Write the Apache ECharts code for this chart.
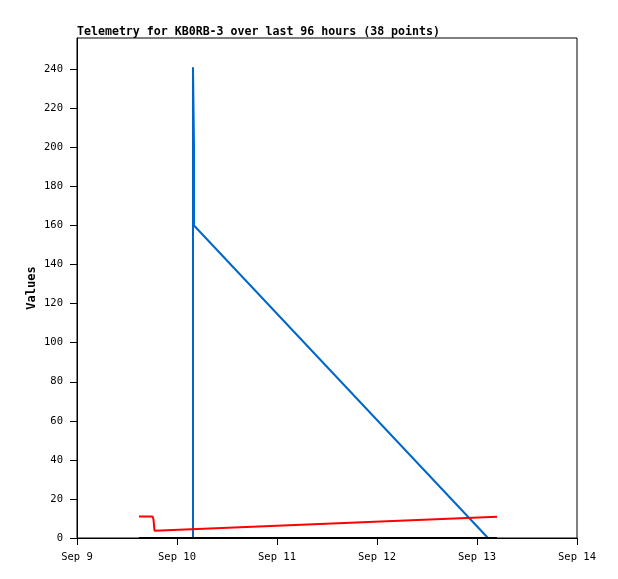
<!DOCTYPE html>
<html><head><meta charset="utf-8">
<script src="https://cdn.jsdelivr.net/npm/echarts@6/dist/echarts.min.js"></script>
<style>html,body{margin:0;padding:0;background:#fff}#c{width:618px;height:579px}</style>
</head><body><div id="c"></div>
<script>
// Hours since Sep 9 00:00
const xTickHours = [0, 24, 48, 72, 96, 120];
const xTickLabels = ['Sep 9', 'Sep 10', 'Sep 11', 'Sep 12', 'Sep 13', 'Sep 14'];
const yTicks = [0, 20, 40, 60, 80, 100, 120, 140, 160, 180, 200, 220, 240];

const blueHours = [27.84, 27.84, 28.08, 28.08, 98.64];
const blueValues = [0, 241, 200, 160, 0];
const redHours = [14.88, 18.12, 18.36, 18.6, 100.8];
const redValues = [11, 11, 9.5, 3.7, 10.9];
const blackHours = [14.88, 100.8];
const blackValues = [0, 0];

const zip = (a, b) => a.map((v, i) => [v, b[i]]);
const mono = 'DejaVu Sans Mono';

const chart = echarts.init(document.getElementById('c'), null, {renderer: 'canvas'});
chart.setOption({
  animation: false,
  backgroundColor: '#fff',
  title: {
    text: 'Telemetry for KB0RB-3 over last 96 hours (38 points)',
    left: 72, top: 21,
    textStyle: {fontFamily: mono, fontWeight: 'bold', fontSize: 11.6, color: '#000'}
  },
  grid: {left: 77, right: 41, top: 38, bottom: 41, show: true, borderColor: '#000', borderWidth: 1, backgroundColor: 'transparent'},
  xAxis: {
    type: 'value', min: 0, max: 120, interval: 24,
    axisLine: {lineStyle: {color: '#000', width: 1}},
    axisTick: {show: true, length: 7, inside: false, lineStyle: {color: '#000'}, customValues: xTickHours},
    axisLabel: {
      customValues: xTickHours,
      formatter: v => xTickLabels[xTickHours.indexOf(v)] || '',
      fontFamily: mono, fontSize: 10.5, color: '#000', margin: 14
    },
    splitLine: {show: false}
  },
  yAxis: {
    type: 'value', min: 0, max: 256,
    name: 'Values', nameLocation: 'middle', nameGap: 39, nameMoveOverlap: false,
    nameTextStyle: {fontFamily: mono, fontWeight: 'bold', fontSize: 12, color: '#000'},
    axisLine: {show: true, lineStyle: {color: '#000', width: 1}},
    axisTick: {show: true, length: 7, lineStyle: {color: '#000'}, customValues: yTicks},
    axisLabel: {customValues: yTicks, fontFamily: mono, fontSize: 10.5, color: '#000', margin: 14},
    splitLine: {show: false}
  },
  series: [
    {type: 'line', data: zip(blueHours, blueValues), symbol: 'none', lineStyle: {color: '#0066cc', width: 2}},
    {type: 'line', data: zip(redHours, redValues), symbol: 'none', lineStyle: {color: '#ff0000', width: 2}},
    {type: 'line', data: zip(blackHours, blackValues), symbol: 'none', lineStyle: {color: '#000000', width: 2}}
  ]
});
</script></body></html>
